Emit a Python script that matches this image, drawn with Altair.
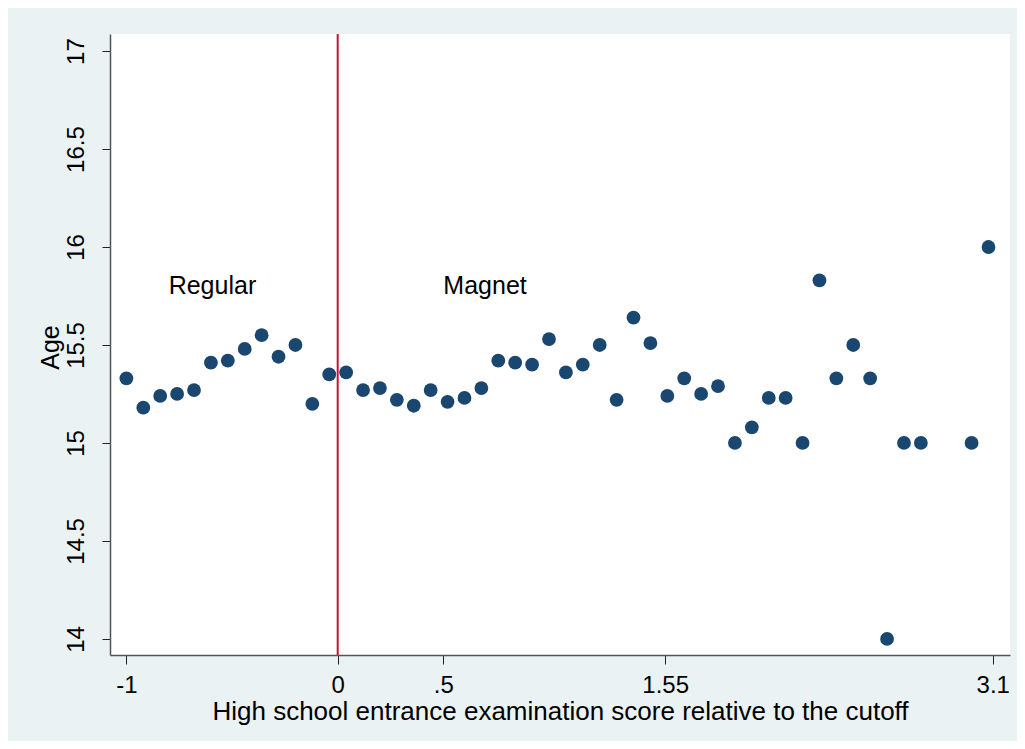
import altair as alt
import pandas as pd

# Binned scores (relative to cutoff) and mean age per bin
score = [-1.00, -0.92, -0.84, -0.76, -0.68, -0.60, -0.52, -0.44, -0.36, -0.28,
         -0.20, -0.12, -0.04, 0.04, 0.12, 0.20, 0.28, 0.36, 0.44, 0.52,
         0.60, 0.68, 0.76, 0.84, 0.92, 1.00, 1.08, 1.16, 1.24, 1.32,
         1.40, 1.48, 1.56, 1.64, 1.72, 1.80, 1.88, 1.96, 2.04, 2.12,
         2.20, 2.28, 2.36, 2.44, 2.52, 2.60, 2.68, 2.76, 3.00, 3.08]
age = [15.33, 15.18, 15.24, 15.25, 15.27, 15.41, 15.42, 15.48, 15.55, 15.44,
       15.50, 15.20, 15.35, 15.36, 15.27, 15.28, 15.22, 15.19, 15.27, 15.21,
       15.23, 15.28, 15.42, 15.41, 15.40, 15.53, 15.36, 15.40, 15.50, 15.22,
       15.64, 15.51, 15.24, 15.33, 15.25, 15.29, 15.00, 15.08, 15.23, 15.23,
       15.00, 15.83, 15.33, 15.50, 15.33, 14.00, 15.00, 15.00, 15.00, 16.00]

x_tick_values = [-1, 0, 0.5, 1.55, 3.1]
x_tick_labels = ["-1", "0", ".5", "1.55", "3.1"]
y_tick_values = [14, 14.5, 15, 15.5, 16, 16.5, 17]
y_tick_labels = ["14", "14.5", "15", "15.5", "16", "16.5", "17"]

annot_x = [-0.8, 0.5]
annot_y = [15.8, 15.8]
annot_text = ["Regular", "Magnet"]

cutoff = [0]

FONT = "Liberation Sans"
NAVY = "#1A476F"

df = pd.DataFrame({"score": score, "age": age})
ann = pd.DataFrame({"x": annot_x, "y": annot_y, "t": annot_text})
cut = pd.DataFrame({"x": cutoff})


def label_expr(values, labels):
    parts = []
    for v, l in zip(values, labels):
        parts.append(f"abs(datum.value - ({v})) < 1e-6 ? '{l}' : ")
    return "".join(parts) + "''"


xscale = alt.Scale(domain=[-1.0776, 3.1818], nice=False, zero=False)
yscale = alt.Scale(domain=[13.918, 17.087], nice=False, zero=False)

xaxis = alt.Axis(
    values=x_tick_values,
    labelExpr=label_expr(x_tick_values, x_tick_labels),
    title="High school entrance examination score relative to the cutoff",
    grid=False,
    tickSize=9,
    tickColor="#222222",
    domainColor="#555555",
    domainWidth=1.5,
    labelFont=FONT,
    labelFontSize=24,
    labelColor="black",
    labelPadding=9,
    labelFlush=False,
    labelOverlap=False,
    titleFont=FONT,
    titleFontSize=26,
    titleFontWeight="normal",
    titleColor="black",
    titleBaseline="alphabetic",
    titleY=64,
)

yaxis = alt.Axis(
    values=y_tick_values,
    labelExpr=label_expr(y_tick_values, y_tick_labels),
    title="Age",
    grid=False,
    tickSize=8,
    tickColor="#222222",
    domainColor="#555555",
    domainWidth=1.5,
    labelFont=FONT,
    labelFontSize=24,
    labelColor="black",
    labelAngle=270,
    labelAlign="center",
    labelBaseline="middle",
    labelPadding=26,
    labelFlush=False,
    labelOverlap=False,
    titleFont=FONT,
    titleFontSize=25,
    titleFontWeight="normal",
    titleColor="black",
    titleAngle=270,
    titleAlign="center",
    titleBaseline="alphabetic",
    titleX=-52,
    titleY=313,
)

points = alt.Chart(df).mark_circle(size=190, opacity=1, color=NAVY).encode(
    x=alt.X("score:Q", scale=xscale, axis=xaxis),
    y=alt.Y("age:Q", scale=yscale, axis=yaxis),
)

rule = alt.Chart(cut).mark_rule(color="#CC1033", strokeWidth=2).encode(
    x=alt.X("x:Q", scale=xscale)
)

text = alt.Chart(ann).mark_text(
    align="left", baseline="middle", font=FONT, fontSize=25, color="black"
).encode(
    x=alt.X("x:Q", scale=xscale),
    y=alt.Y("y:Q", scale=yscale),
    text="t:N",
)

chart = (
    alt.layer(rule, points, text)
    .properties(
        width=900,
        height=621,
        background="#EAF2F3",
        padding={"left": 102, "top": 26, "right": 7, "bottom": 86},
        autosize=alt.AutoSizeParams(type="none"),
    )
    .configure_view(fill="white", stroke=None)
)

chart.save("out.html", embed_options={"renderer": "svg", "actions": False})
